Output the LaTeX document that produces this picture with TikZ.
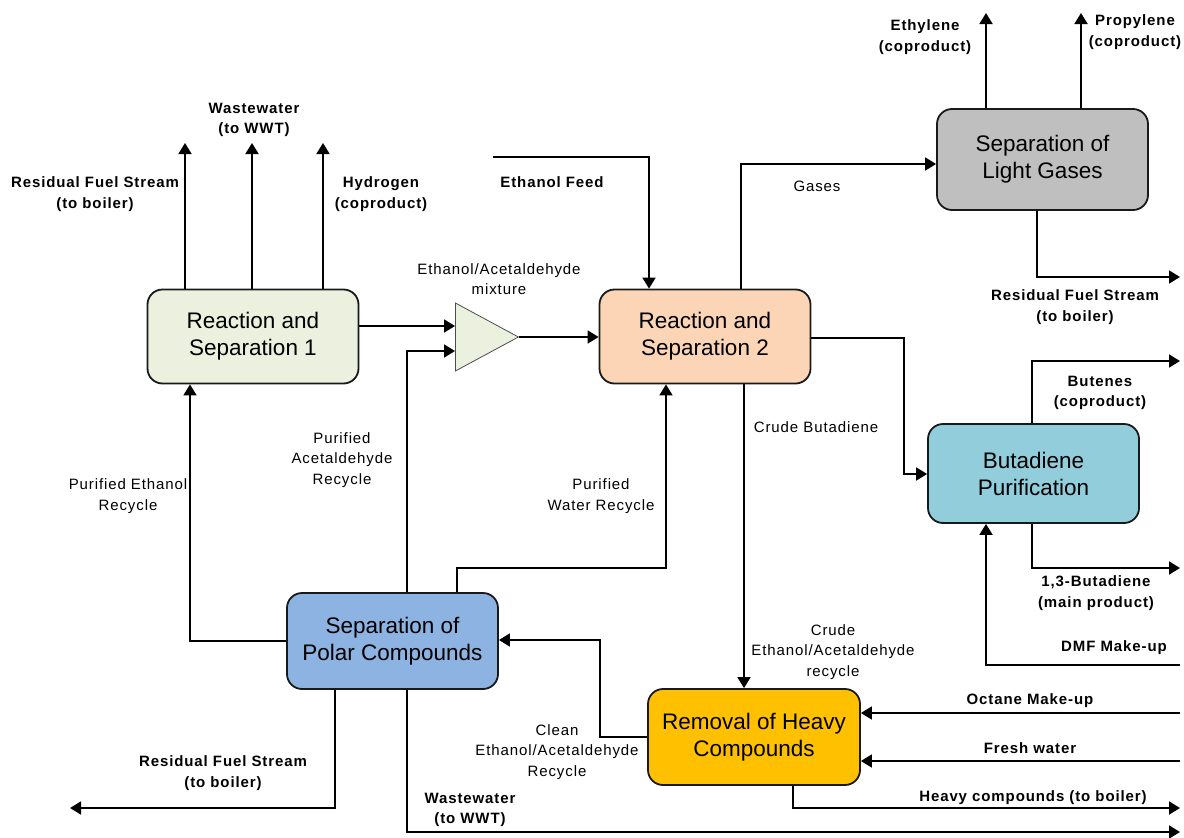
\documentclass[tikz,border=0pt]{standalone}
\usepackage{fontspec}
\setmainfont{Liberation Sans}
\newfontfamily\lblfont[LetterSpace=6]{Liberation Sans}
\usetikzlibrary{arrows.meta,shapes.geometric,calc}
\definecolor{cgreen}{HTML}{EBF1DE}
\definecolor{cpeach}{HTML}{FBD5B5}
\definecolor{cgray}{HTML}{BFBFBF}
\definecolor{cteal}{HTML}{92CDDC}
\definecolor{cblue}{HTML}{8DB3E2}
\definecolor{cgold}{HTML}{FFC000}
\begin{document}
\begin{tikzpicture}[x=1pt,y=-1pt,
 proc/.style={draw=black!90,line width=1.8pt,rounded corners=15pt,minimum width=211pt,minimum height=94pt,align=center,font=\fontsize{22.5}{27}\selectfont,inner sep=0pt},
 flow/.style={line width=1.8pt,-{Triangle[length=11pt,width=13pt]}},
 lb/.style={font=\lblfont\bfseries\fontsize{15}{20.5}\selectfont,align=center,inner sep=0pt},
 lr/.style={font=\lblfont\fontsize{15}{20.5}\selectfont,align=center,inner sep=0pt}]
\useasboundingbox (0,0) rectangle (1184,838);
% process boxes
\node[proc,fill=cgreen] (rs1) at (253,336.5) {Reaction and\\Separation 1};
\node[proc,fill=cpeach] (rs2) at (705,336.5) {Reaction and\\Separation 2};
\node[proc,fill=cgray,minimum height=101pt] (lg) at (1042.5,159.5) {Separation of\\Light Gases};
\node[proc,fill=cteal,minimum height=99pt] (bp) at (1033.5,473.5) {Butadiene\\Purification};
\node[proc,fill=cblue,minimum height=96pt] (pc) at (392.5,641) {Separation of\\Polar Compounds};
\node[proc,fill=cgold,minimum height=96pt,minimum width=212pt] (hr) at (754,737) {Removal of Heavy\\Compounds};
\node[draw=black!70,fill=cgreen,line width=0.8pt,isosceles triangle,isosceles triangle stretches,shape border rotate=0,minimum width=68pt,minimum height=63pt,inner sep=0pt,anchor=lower side] (mix) at (455,337) {};
% coordinates
\coordinate (r1a) at (185,143);
\coordinate (r1b) at (252,143);
\coordinate (r1c) at (323,143);
\coordinate (m1) at (455,326);
\coordinate (m2) at (455,351);
\coordinate (c1) at (407,351);
\coordinate (ef) at (493,157);
\coordinate (efc) at (649,157);
\coordinate (gc) at (741,164);
\coordinate (e1) at (986,13);
\coordinate (e2) at (1081,13);
\coordinate (lgc) at (1037,277);
\coordinate (lge) at (1180,277);
\coordinate (cb0) at (904,338);
\coordinate (cb) at (904,474);
\coordinate (cr) at (744,500);
\coordinate (bu) at (1032,361);
\coordinate (bue) at (1180,361);
\coordinate (bd) at (1032,568);
\coordinate (bde) at (1180,568);
\coordinate (dmf) at (1180,665);
\coordinate (dmfc) at (986,665);
\coordinate (wr1) at (457,568);
\coordinate (wr2) at (666,568);
\coordinate (er) at (190,641);
\coordinate (cl1) at (600,737);
\coordinate (cl2) at (600,640);
\coordinate (oc) at (1180,713);
\coordinate (fw) at (1180,761);
\coordinate (hv) at (793,808);
\coordinate (hve) at (1180,808);
\coordinate (pr) at (335,808);
\coordinate (pre) at (70,808);
\coordinate (ww) at (407,832);
\coordinate (wwe) at (1180,832);
% connectors
\draw[flow] (r1a |- rs1.north) -- (r1a);
\draw[flow] (r1b |- rs1.north) -- (r1b);
\draw[flow] (r1c |- rs1.north) -- (r1c);
\draw[flow] (m1 -| rs1.east) -- (m1);
\draw[flow] (c1 |- pc.north) -- (c1) -- (m2);
\draw[flow] (mix.apex) -- (rs2.west |- mix.apex);
\draw[flow] (ef) -- (efc) -- (efc |- rs2.north);
\draw[flow] (gc |- rs2.north) -- (gc) -- (gc -| lg.west);
\draw[flow] (e1 |- lg.north) -- (e1);
\draw[flow] (e2 |- lg.north) -- (e2);
\draw[flow] (lgc |- lg.south) -- (lgc) -- (lge);
\draw[flow] (cb0 -| rs2.east) -- (cb0) -- (cb) -- (bp.west |- cb);
\draw[flow] (cr |- rs2.south) -- (cr |- hr.north);
\draw[flow] (bu |- bp.north) -- (bu) -- (bue);
\draw[flow] (bd |- bp.south) -- (bd) -- (bde);
\draw[flow] (dmf) -- (dmfc) -- (dmfc |- bp.south);
\draw[flow] (wr1 |- pc.north) -- (wr1) -- (wr2) -- (wr2 |- rs2.south);
\draw[flow] (pc.west) -- (er) -- (er |- rs1.south);
\draw[flow] (hr.west) -- (cl1) -- (cl2) -- (cl2 -| pc.east);
\draw[flow] (oc) -- (oc -| hr.east);
\draw[flow] (fw) -- (fw -| hr.east);
\draw[flow] (hv |- hr.south) -- (hv) -- (hve);
\draw[flow] (pr |- pc.south) -- (pr) -- (pre);
\draw[flow] (ww |- pc.south) -- (ww) -- (wwe);
% labels
\node[lb] (t1) at (95,194) {Residual Fuel Stream\\(to boiler)};
\node[lb] (t2) at (254,120) {Wastewater\\(to WWT)};
\node[lb] (t3) at (381,194) {Hydrogen\\(coproduct)};
\node[lr] (t4) at (499,279) {Ethanol/Acetaldehyde\\mixture};
\node[lb] (t5) at (552,182) {Ethanol Feed};
\node[lr] (t6) at (817,186) {Gases};
\node[lb] (t7) at (925,37) {Ethylene\\(coproduct)};
\node[lb] (t8) at (1135,32) {Propylene\\(coproduct)};
\node[lb] (t9) at (1075,307) {Residual Fuel Stream\\(to boiler)};
\node[lb] (t10) at (1100,393) {Butenes\\(coproduct)};
\node[lr] (t11) at (816,427) {Crude Butadiene};
\node[lb] (t12) at (1096,593) {1,3-Butadiene\\(main product)};
\node[lb] (t13) at (1114,648) {DMF Make-up};
\node[lr] (t14) at (342,460) {Purified\\Acetaldehyde\\Recycle};
\node[lr] (t15) at (128,496) {Purified Ethanol\\Recycle};
\node[lr] (t16) at (601,496) {Purified\\Water Recycle};
\node[lr] (t17) at (833,652) {Crude\\Ethanol/Acetaldehyde\\recycle};
\node[lr] (t18) at (557,752) {Clean\\Ethanol/Acetaldehyde\\Recycle};
\node[lb] (t19) at (1030,701) {Octane Make-up};
\node[lb] (t20) at (1030,748) {Fresh water};
\node[lb] (t21) at (1033,798) {Heavy compounds (to boiler)};
\node[lb] (t22) at (223,773) {Residual Fuel Stream\\(to boiler)};
\node[lb] (t23) at (470,810) {Wastewater\\(to WWT)};
\end{tikzpicture}
\end{document}
